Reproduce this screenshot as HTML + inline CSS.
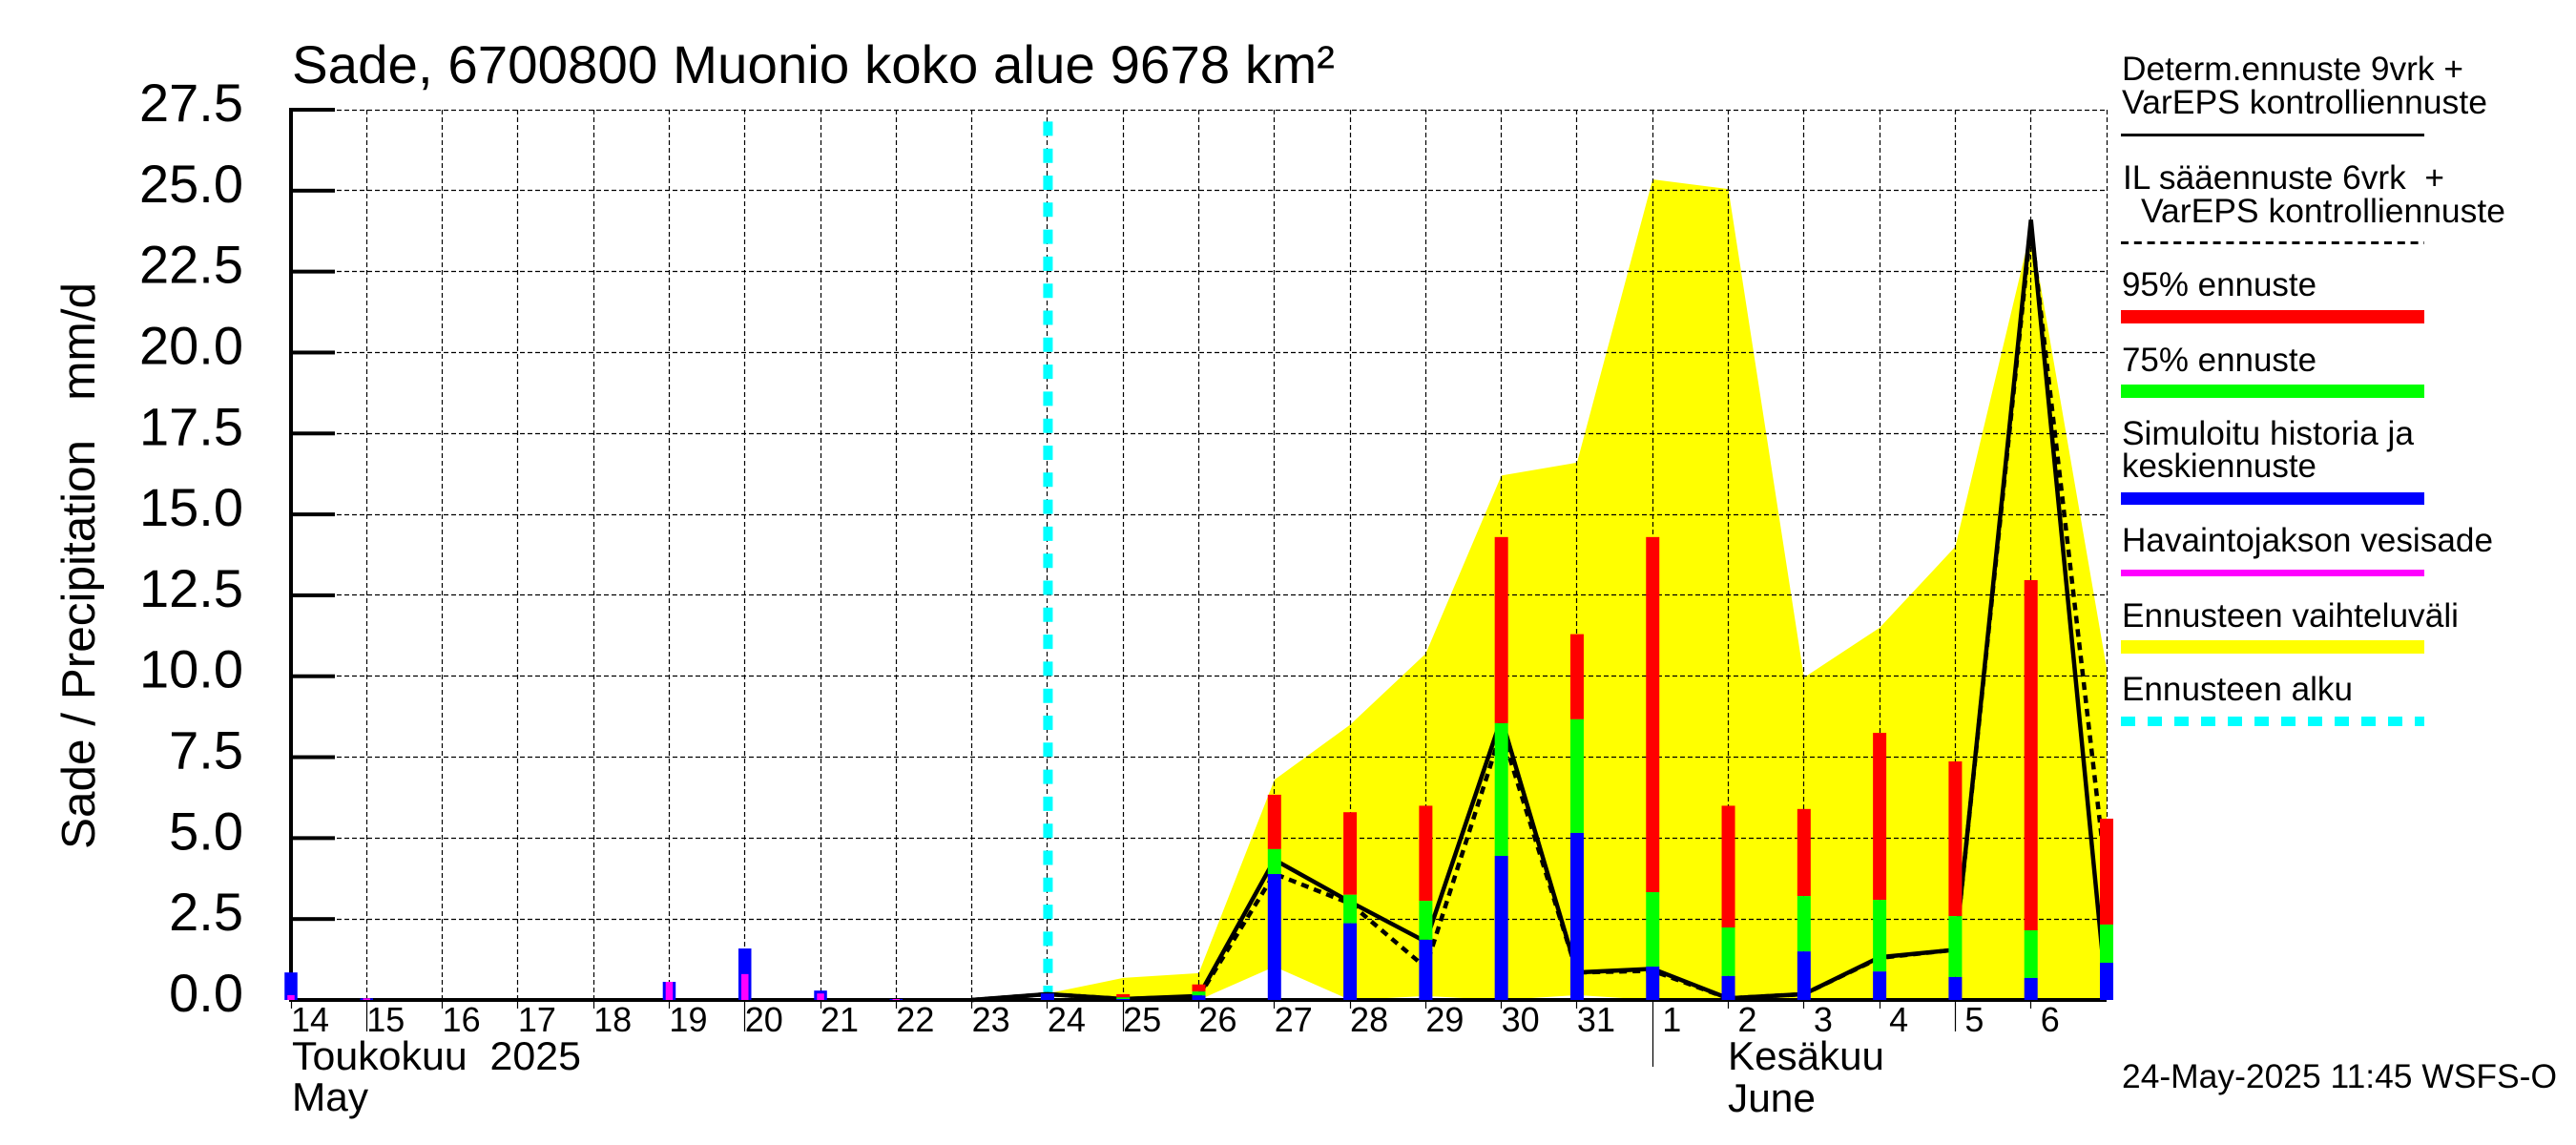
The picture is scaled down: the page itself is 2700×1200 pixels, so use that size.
<!DOCTYPE html>
<html lang="fi">
<head>
<meta charset="utf-8">
<title>Sade, 6700800 Muonio koko alue</title>
<style>
html,body{margin:0;padding:0;background:#fff}
svg{display:block}
text{font-family:"Liberation Sans",sans-serif;fill:#000;white-space:pre}
</style>
</head>
<body>
<svg id="chart" xmlns="http://www.w3.org/2000/svg" width="2700" height="1200" viewBox="0 0 2700 1200">
  <rect x="0" y="0" width="2700" height="1200" fill="#fff"/>
  <g id="band-layer"></g>
  <g id="grid-layer"></g>
  <g id="axis-layer"></g>
  <g id="cyan-layer"></g>
  <g id="line-layer"></g>
  <g id="bar-layer"></g>

  <text x="306" y="87" font-size="56" textLength="1093" lengthAdjust="spacingAndGlyphs">Sade, 6700800 Muonio koko alue 9678 km²</text>
  <text transform="translate(99,890) rotate(-90)" font-size="49" textLength="594" lengthAdjust="spacingAndGlyphs">Sade / Precipitation   mm/d</text>

  <text x="306" y="1121" font-size="42" textLength="303" lengthAdjust="spacingAndGlyphs">Toukokuu  2025</text>
  <text x="306" y="1164" font-size="42" textLength="80" lengthAdjust="spacingAndGlyphs">May</text>
  <text x="1811" y="1121" font-size="42" textLength="164" lengthAdjust="spacingAndGlyphs">Kesäkuu</text>
  <text x="1811" y="1165" font-size="42" textLength="92" lengthAdjust="spacingAndGlyphs">June</text>

  <g>
    <text x="2224" y="84" font-size="35" textLength="358" lengthAdjust="spacingAndGlyphs">Determ.ennuste 9vrk +</text>
    <text x="2224" y="119" font-size="35" textLength="383" lengthAdjust="spacingAndGlyphs">VarEPS kontrolliennuste</text>
    <rect x="2223" y="140" width="318" height="3" fill="#000"/>

    <text x="2225" y="198" font-size="35" textLength="337" lengthAdjust="spacingAndGlyphs">IL sääennuste 6vrk  +</text>
    <text x="2244" y="233" font-size="35" textLength="382" lengthAdjust="spacingAndGlyphs">VarEPS kontrolliennuste</text>
    <line x1="2223" y1="254.5" x2="2541" y2="254.5" stroke="#000" stroke-width="3" stroke-dasharray="8 5.8"/>

    <text x="2224" y="310" font-size="35" textLength="204" lengthAdjust="spacingAndGlyphs">95% ennuste</text>
    <rect x="2223" y="325" width="318" height="14" fill="#f00"/>

    <text x="2224" y="389" font-size="35" textLength="204" lengthAdjust="spacingAndGlyphs">75% ennuste</text>
    <rect x="2223" y="403" width="318" height="14" fill="#0f0"/>

    <text x="2224" y="466" font-size="35" textLength="306" lengthAdjust="spacingAndGlyphs">Simuloitu historia ja</text>
    <text x="2224" y="500" font-size="35" textLength="204" lengthAdjust="spacingAndGlyphs">keskiennuste</text>
    <rect x="2223" y="516" width="318" height="13" fill="#00f"/>

    <text x="2224" y="578" font-size="35" textLength="389" lengthAdjust="spacingAndGlyphs">Havaintojakson vesisade</text>
    <rect x="2223" y="597" width="318" height="7" fill="#f0f"/>

    <text x="2224" y="657" font-size="35" textLength="353" lengthAdjust="spacingAndGlyphs">Ennusteen vaihteluväli</text>
    <rect x="2223" y="671" width="318" height="14" fill="#ff0"/>

    <text x="2224" y="734" font-size="35" textLength="242" lengthAdjust="spacingAndGlyphs">Ennusteen alku</text>
    <line x1="2223" y1="756" x2="2541" y2="756" stroke="#0ff" stroke-width="10" stroke-dasharray="15 13"/>
  </g>

  <text x="2224" y="1140" font-size="35" textLength="456" lengthAdjust="spacingAndGlyphs">24-May-2025 11:45 WSFS-O</text>
</svg>

<script>
// Chart data
const dayLabels = ['14','15','16','17','18','19','20','21','22','23','24','25','26','27','28','29','30','31','1','2','3','4','5','6'];
const longTickLabels = ['15','20','25','5'];
const monthStartLabels = ['1'];
const yTickLabels = ['0.0','2.5','5.0','7.5','10.0','12.5','15.0','17.5','20.0','22.5','25.0','27.5'];
const yTickValues = [0,2.5,5,7.5,10,12.5,15,17.5,20,22.5,25,27.5];

// History bars: day slots and mm/d
const historySlots = [0,1,5,6,7,8];
const historySimulated = [0.85,0.05,0.56,1.59,0.29,0.03];
const historyObserved = [0.15,0.05,0.56,0.80,0.20,0.03];

// Forecast slots (24 May .. end of period)
const forecastSlots = [10,11,12,13,14,15,16,17,18,19,20,21,22,23,24];
const forecastMean = [0.20,0.03,0.14,3.89,2.37,1.86,4.45,5.16,1.03,0.74,1.50,0.88,0.71,0.68,1.15];
const forecast75 = [0.20,0.08,0.26,4.66,3.25,3.06,8.55,8.67,3.33,2.24,3.21,3.09,2.59,2.15,2.33];
const forecast95 = [0.20,0.18,0.48,6.34,5.80,6.00,14.30,11.30,14.30,6.00,5.90,8.25,7.37,12.97,5.60];
const rangeUpper = [0.20,0.68,0.83,6.80,8.50,10.70,16.20,16.60,25.35,25.05,9.96,11.50,14.00,23.80,10.25];
const rangeLower = [0.10,0.00,0.00,1.03,0.00,0.12,0.00,0.15,0.00,0.00,0.00,0.00,0.00,0.00,0.00];

// Lines
const lineSlots = [9,10,11,12,13,14,15,16,17,18,19,20,21,22,23,24];
const determLine = [0,0.18,0.03,0.12,4.33,3.03,1.80,8.70,0.85,0.96,0.05,0.18,1.32,1.55,24.10,0.10];
const ilLine = [0,0.18,0.03,0.10,3.90,2.98,1.00,8.30,0.85,0.90,0.05,0.18,1.30,1.55,23.90,3.70];

const forecastStartSlot = 10;
const slotMax = 24;

// Axis functions
function xScale(slot){ return 305 + slot * (2208 - 305) / 24; }
function yScale(v){ return 1048 - v * (1048 - 115) / 27.5; }

const SVGNS = 'http://www.w3.org/2000/svg';
function make(tag, parent, attrs){
  const el = document.createElementNS(SVGNS, tag);
  for (const k in attrs) el.setAttribute(k, attrs[k]);
  parent.appendChild(el);
  return el;
}
const bandLayer = document.getElementById('band-layer');
const gridLayer = document.getElementById('grid-layer');
const axisLayer = document.getElementById('axis-layer');
const cyanLayer = document.getElementById('cyan-layer');
const lineLayer = document.getElementById('line-layer');
const barLayer = document.getElementById('bar-layer');

// Range band
const upperPts = forecastSlots.map((s,i)=>xScale(s)+','+yScale(rangeUpper[i]));
const lowerPts = forecastSlots.map((s,i)=>xScale(s)+','+yScale(rangeLower[i])).reverse();
const band = make('polygon', bandLayer, {points: upperPts.concat(lowerPts).join(' '), fill:'#ff0'});



// Grid
yTickValues.forEach((v)=>{
  if (v === 0) return;
  const y = Math.floor(yScale(v)) + 0.5;
  const g = make('line', gridLayer, {x1:xScale(0), y1:y, x2:xScale(slotMax), y2:y, stroke:'#000', 'stroke-width':1.2, 'stroke-dasharray':'5 3'});
  
  
});
for (let s = 1; s <= slotMax; s++){
  const x = Math.floor(xScale(s)) + 0.5;
  const g = make('line', gridLayer, {x1:x, y1:yScale(0), x2:x, y2:yScale(27.5), stroke:'#000', 'stroke-width':1.2, 'stroke-dasharray':'5 3'});
  
  
}

// Axes
const xAxis = make('rect', axisLayer, {x:303, y:1046, width:1905, height:4, fill:'#000'});


const yAxis = make('rect', axisLayer, {x:303, y:113, width:4, height:937, fill:'#000'});



yTickValues.forEach((v,i)=>{
  const y = yScale(v);
  const t = make('rect', axisLayer, {x:303, y:y-2, width:48, height:4, fill:'#000'});
  
  
  const lab = make('text', axisLayer, {x:255, y:y+12, 'font-size':56, 'text-anchor':'end'});
  
  
  lab.textContent = yTickLabels[i];
});

dayLabels.forEach((d,s)=>{
  const x = Math.floor(xScale(s)) + 0.5;
  let end = 1057;
  if (longTickLabels.includes(d)) end = 1081;
  if (monthStartLabels.includes(d)) end = 1118;
  const t = make('line', axisLayer, {x1:x, y1:1048, x2:x, y2:end, stroke:'#000', 'stroke-width':1.2});
  
  
  const lab = make('text', axisLayer, {x:xScale(s)+20, y:1081, 'font-size':36, 'text-anchor':'middle'});
  
  
  lab.textContent = d;
});

// Forecast start marker
const cyan = make('line', cyanLayer, {x1:xScale(forecastStartSlot)+0.5, y1:yScale(0), x2:xScale(forecastStartSlot)+0.5, y2:127, stroke:'#0ff', 'stroke-width':10, 'stroke-dasharray':'15 13.3'});



// Lines
const ilPath = make('polyline', lineLayer, {points: lineSlots.map((s,i)=>xScale(s)+','+yScale(ilLine[i])).join(' '), fill:'none', stroke:'#000', 'stroke-width':4.5, 'stroke-dasharray':'8 6'});


const detPath = make('polyline', lineLayer, {points: lineSlots.map((s,i)=>xScale(s)+','+yScale(determLine[i])).join(' '), fill:'none', stroke:'#000', 'stroke-width':4.5});



// Bars
function bar(parent, cx, w, v0, v1, fill){
  const yTop = yScale(v1), yBot = yScale(v0);
  return make('rect', parent, {x:cx-w/2, y:yTop, width:w, height:yBot-yTop, fill:fill});
}
historySlots.forEach((s,i)=>{
  const cx = xScale(s);
  const b = bar(barLayer, cx, 13.5, 0, historySimulated[i], '#00f');
  
  
  const m = bar(barLayer, cx, 7.5, 0, historyObserved[i], '#f0f');
  
  
});
forecastSlots.forEach((s,i)=>{
  const cx = xScale(s);
  const r = bar(barLayer, cx, 14, forecast75[i], forecast95[i], '#f00');
  
  
  const g = bar(barLayer, cx, 14, forecastMean[i], forecast75[i], '#0f0');
  
  
  const b = bar(barLayer, cx, 14, 0, forecastMean[i], '#00f');
  
  
});
</script>
</body>
</html>
